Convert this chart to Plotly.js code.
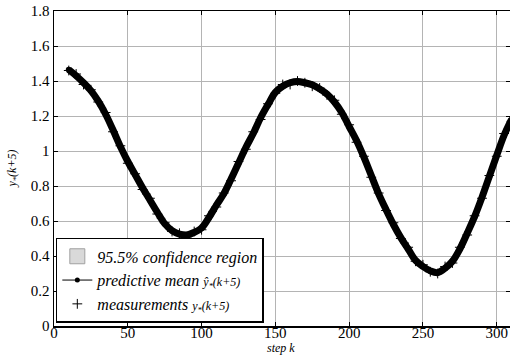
<!DOCTYPE html>
<html>
<head>
<meta charset="utf-8">
<script src="https://cdn.plot.ly/plotly-3.0.1.min.js"></script>
<style>html,body{margin:0;padding:0;background:#fff;}#chart{width:510px;height:358px;}</style>
</head>
<body>
<div id="chart"></div>
<script>
// step k
const steps = [10,15,20,25,30,35,40,45,50,55,60,65,70,75,80,85,90,95,100,105,110,115,120,125,130,135,140,145,150,155,160,165,170,175,180,185,190,195,200,205,210,215,220,225,230,235,240,245,250,255,260,265,270,275,280,285,290,295,300,305,310];
// predictive mean
const meanVals = [1.465,1.43,1.39,1.345,1.285,1.21,1.12,1.025,0.94,0.865,0.79,0.72,0.65,0.585,0.545,0.525,0.52,0.535,0.56,0.62,0.69,0.755,0.84,0.93,1.02,1.10,1.19,1.265,1.335,1.37,1.39,1.397,1.39,1.378,1.355,1.325,1.28,1.22,1.14,1.06,0.965,0.86,0.755,0.665,0.58,0.505,0.44,0.375,0.34,0.315,0.305,0.33,0.37,0.44,0.53,0.625,0.735,0.855,0.975,1.09,1.18];
// 95.5% confidence half-width
const confHalf = [0.02,0.02,0.02,0.02,0.02,0.02,0.02,0.02,0.02,0.02,0.02,0.02,0.02,0.02,0.02,0.02,0.02,0.02,0.02,0.02,0.02,0.02,0.02,0.02,0.02,0.02,0.02,0.02,0.02,0.02,0.02,0.02,0.02,0.02,0.02,0.02,0.02,0.02,0.02,0.02,0.02,0.02,0.02,0.02,0.02,0.02,0.02,0.02,0.02,0.02,0.02,0.02,0.02,0.02,0.02,0.02,0.02,0.02,0.02,0.02,0.02];
// measurements
const measVals = [1.46,1.44,1.38,1.35,1.28,1.22,1.11,1.03,0.93,0.87,0.78,0.73,0.64,0.59,0.54,0.53,0.51,0.54,0.55,0.63,0.68,0.76,0.83,0.94,1.01,1.11,1.18,1.27,1.33,1.38,1.38,1.40,1.39,1.37,1.36,1.32,1.29,1.21,1.15,1.05,0.97,0.85,0.76,0.66,0.59,0.50,0.45,0.37,0.35,0.31,0.30,0.34,0.36,0.45,0.52,0.63,0.73,0.86,0.97,1.10,1.17];
// tick labels
const yTicks = [0,0.2,0.4,0.6,0.8,1,1.2,1.4,1.6,1.8];
const yTickText = ['0','0.2','0.4','0.6','0.8','1','1.2','1.4','1.6','1.8'];
const xTicks = [0,50,100,150,200,250,300];

const upper = meanVals.map((v,i)=>v+confHalf[i]);
const lower = meanVals.map((v,i)=>v-confHalf[i]);

const SERIF = "Liberation Serif";

const traces = [
  { x: steps.concat(steps.slice().reverse()), y: upper.concat(lower.slice().reverse()),
    type:'scatter', mode:'lines', fill:'toself', fillcolor:'#d9d9d9',
    line:{color:'#d9d9d9', width:0}, showlegend:false, hoverinfo:'skip' },
  { x: steps, y: meanVals, type:'scatter', mode:'lines+markers',
    line:{color:'#000', width:7, shape:'spline'}, marker:{size:6, color:'#000'}, showlegend:false },
  { x: steps, y: measVals, type:'scatter', mode:'markers',
    marker:{symbol:'cross-thin-open', size:7, color:'#000', line:{color:'#000', width:1}}, showlegend:false },
  { x:[null], y:[null], type:'scatter', mode:'markers',
    marker:{symbol:'square', size:15, color:'#d9d9d9', line:{color:'#a0a0a0', width:1}},
    name:'<i>95.5% confidence region</i>' },
  { x:[null], y:[null], type:'scatter', mode:'lines+markers', line:{color:'#000', width:1},
    marker:{size:5, color:'#000'}, name:'<i>predictive mean <span style="font-size:12px">ŷ<sub>*</sub>(k+5)</span></i>' },
  { x:[null], y:[null], type:'scatter', mode:'markers',
    marker:{symbol:'cross-thin-open', size:7, color:'#000', line:{color:'#000', width:1}},
    name:'<i>measurements <span style="font-size:12px">y<sub>*</sub>(k+5)</span></i>' }
];

const layout = {
  width:510, height:358,
  margin:{l:54, r:0, t:11, b:32},
  paper_bgcolor:'#fff', plot_bgcolor:'#fff',
  font:{family:SERIF, color:'#000', size:15},
  showlegend:true,
  legend:{x:0.004, y:0.01, xanchor:'left', yanchor:'bottom', bgcolor:'#fff',
    bordercolor:'#000', borderwidth:1.5, font:{family:SERIF, size:16, color:'#000'},
    itemwidth:30, tracegroupgap:0},
  xaxis:{range:[0,309], tickvals:xTicks, showgrid:true, gridcolor:'#b4b4b4', gridwidth:1,
    zeroline:false, showline:true, linecolor:'#000', linewidth:1.5, mirror:'ticks',
    ticks:'inside', ticklen:4, tickcolor:'#000', ticklabelstandoff:-8,
    tickfont:{family:SERIF, size:15, color:'#000'}},
  yaxis:{range:[0,1.8], tickvals:yTicks, ticktext:yTickText,
    showgrid:true, gridcolor:'#b4b4b4', gridwidth:1,
    zeroline:false, showline:true, linecolor:'#000', linewidth:1.5, mirror:'ticks',
    ticks:'inside', ticklen:4, tickcolor:'#000', tickfont:{family:SERIF, size:15, color:'#000'}},
  annotations:[
    {text:'<i>step k</i>', xref:'paper', yref:'paper', x:0.498, y:-0.07, xanchor:'center', yanchor:'middle', showarrow:false,
      font:{family:SERIF, size:12}},
    {text:'<i>y<sub>*</sub>(k+5)</i>', xref:'paper', yref:'paper', x:-0.09, y:0.5, xanchor:'center', yanchor:'middle', textangle:-90, showarrow:false,
      font:{family:SERIF, size:12}}
  ]
};

Plotly.newPlot('chart', traces, layout, {displayModeBar:false, staticPlot:true});
</script>
</body>
</html>
